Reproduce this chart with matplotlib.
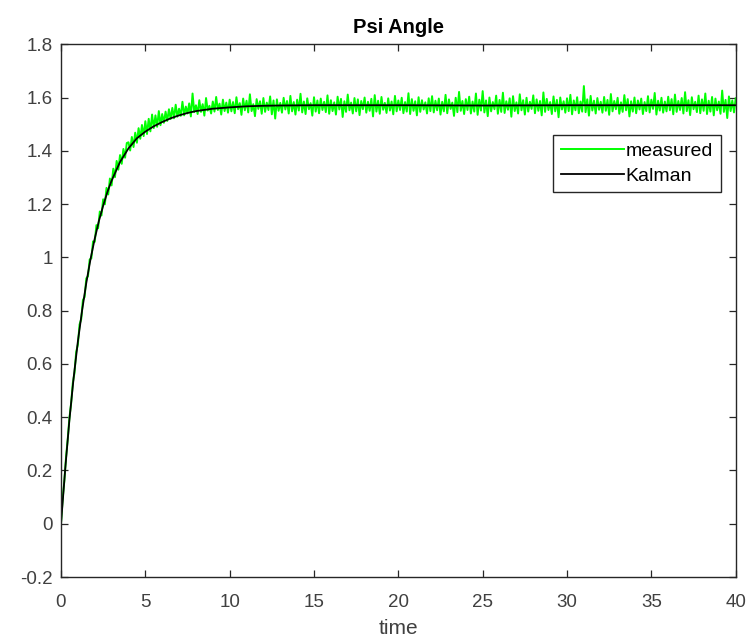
import matplotlib
matplotlib.use('Agg')
import matplotlib.pyplot as plt
import numpy as np

plt.rcParams['font.family'] = ['Liberation Sans', 'DejaVu Sans']

# sample times of the measured signal (0.1 s step)
t_meas = np.linspace(0, 40, 401)

psi_measured = [
    0.000, 0.095, 0.162, 0.251, 0.318, 0.398, 0.451, 0.528, 0.566, 0.645, 0.672, 0.748, 0.768, 0.840, 0.851, 0.921, 0.929, 0.992, 0.996, 1.060,
    1.058, 1.121, 1.109, 1.172, 1.157, 1.218, 1.199, 1.261, 1.236, 1.296, 1.270, 1.333, 1.301, 1.362, 1.329, 1.384, 1.351, 1.407, 1.374, 1.429,
    1.432, 1.401, 1.452, 1.414, 1.468, 1.430, 1.485, 1.445, 1.497, 1.455, 1.511, 1.463, 1.520, 1.473, 1.536, 1.485, 1.533, 1.490, 1.549, 1.496,
    1.538, 1.505, 1.547, 1.512, 1.556, 1.519, 1.561, 1.522, 1.573, 1.528, 1.558, 1.531, 1.584, 1.533, 1.566, 1.540, 1.578, 1.529, 1.615, 1.545,
    1.571, 1.538, 1.590, 1.546, 1.575, 1.532, 1.598, 1.551, 1.569, 1.540, 1.585, 1.547, 1.602, 1.553, 1.577, 1.536, 1.592, 1.549, 1.581, 1.543,
    1.592, 1.548, 1.583, 1.541, 1.601, 1.556, 1.579, 1.535, 1.596, 1.552, 1.588, 1.544, 1.612, 1.549, 1.575, 1.530, 1.594, 1.557, 1.586, 1.539,
    1.598, 1.546, 1.581, 1.553, 1.604, 1.537, 1.589, 1.521, 1.593, 1.550, 1.580, 1.543, 1.599, 1.555, 1.587, 1.540, 1.606, 1.548, 1.583, 1.536,
    1.592, 1.551, 1.614, 1.544, 1.585, 1.538, 1.597, 1.556, 1.579, 1.532, 1.601, 1.547, 1.589, 1.541, 1.596, 1.553, 1.584, 1.545, 1.608, 1.539,
    1.590, 1.549, 1.582, 1.536, 1.603, 1.555, 1.595, 1.527, 1.586, 1.546, 1.611, 1.552, 1.581, 1.540, 1.598, 1.548, 1.593, 1.534, 1.587, 1.556,
    1.600, 1.543, 1.584, 1.550, 1.595, 1.529, 1.609, 1.547, 1.588, 1.539, 1.602, 1.554, 1.580, 1.542, 1.597, 1.551, 1.585, 1.537, 1.606, 1.548,
    1.589, 1.553, 1.599, 1.541, 1.583, 1.547, 1.616, 1.538, 1.594, 1.550, 1.586, 1.533, 1.601, 1.546, 1.590, 1.555, 1.582, 1.540, 1.597, 1.549,
    1.605, 1.544, 1.588, 1.552, 1.596, 1.536, 1.584, 1.548, 1.610, 1.541, 1.593, 1.557, 1.581, 1.531, 1.599, 1.545, 1.621, 1.550, 1.587, 1.538,
    1.594, 1.553, 1.603, 1.540, 1.585, 1.547, 1.615, 1.535, 1.592, 1.551, 1.624, 1.544, 1.589, 1.530, 1.600, 1.548, 1.583, 1.556, 1.607, 1.539,
    1.591, 1.546, 1.618, 1.542, 1.586, 1.554, 1.597, 1.528, 1.605, 1.549, 1.582, 1.540, 1.612, 1.552, 1.590, 1.536, 1.599, 1.547, 1.584, 1.557,
    1.608, 1.541, 1.593, 1.550, 1.587, 1.533, 1.619, 1.546, 1.595, 1.553, 1.583, 1.538, 1.604, 1.548, 1.591, 1.526, 1.600, 1.555, 1.586, 1.543,
    1.597, 1.549, 1.610, 1.537, 1.589, 1.552, 1.601, 1.541, 1.585, 1.547, 1.643, 1.545, 1.593, 1.532, 1.606, 1.551, 1.588, 1.540, 1.598, 1.554,
    1.584, 1.543, 1.602, 1.550, 1.591, 1.535, 1.613, 1.548, 1.587, 1.556, 1.599, 1.539, 1.582, 1.546, 1.609, 1.552, 1.594, 1.529, 1.586, 1.547,
    1.600, 1.541, 1.589, 1.555, 1.596, 1.538, 1.583, 1.549, 1.605, 1.544, 1.592, 1.557, 1.617, 1.536, 1.588, 1.551, 1.599, 1.543, 1.585, 1.548,
    1.603, 1.552, 1.594, 1.537, 1.611, 1.546, 1.587, 1.553, 1.598, 1.540, 1.620, 1.549, 1.590, 1.534, 1.601, 1.556, 1.584, 1.545, 1.607, 1.541,
    1.593, 1.550, 1.615, 1.538, 1.588, 1.547, 1.602, 1.533, 1.596, 1.552, 1.585, 1.539, 1.626, 1.546, 1.591, 1.523, 1.604, 1.549, 1.589, 1.544,
    1.597,
]

t_kalman = [0, 0.25, 0.5, 0.75, 1.0, 1.25, 1.5, 1.75, 2.0, 2.25, 2.5, 2.75, 3.0, 3.5, 4.0, 4.5,
            5.0, 5.5, 6.0, 6.5, 7.0, 7.5, 8.0, 9.0, 10, 11, 12, 13, 15, 20, 25, 30, 35, 40]
psi_kalman = [0, 0.205, 0.39, 0.548, 0.684, 0.80, 0.904, 0.993, 1.07, 1.137, 1.194, 1.245, 1.288, 1.358, 1.409, 1.447,
              1.472, 1.492, 1.508, 1.522, 1.533, 1.542, 1.549, 1.558, 1.563, 1.567, 1.569, 1.570, 1.571, 1.571, 1.570, 1.571, 1.571, 1.571]

fig = plt.figure(figsize=(7.53, 6.41), dpi=100)
ax = fig.add_axes([0.081, 0.0998, 0.896, 0.8312])

ax.plot(t_meas, psi_measured, color='#00ff00', lw=1.4, label='measured')
ax.plot(t_kalman, psi_kalman, color='black', lw=1.3, label='Kalman')

ax.set_xlim(0, 40)
ax.set_ylim(-0.2, 1.8)
ax.set_xticks(np.arange(0, 41, 5))
ax.set_yticks(np.arange(-0.2, 1.81, 0.2))
ax.set_yticklabels(['-0.2', '0', '0.2', '0.4', '0.6', '0.8', '1', '1.2', '1.4', '1.6', '1.8'])

gray = '#262626'
for s in ax.spines.values():
    s.set_color(gray)
    s.set_linewidth(1.0)
ax.tick_params(direction='in', top=True, right=True, length=5, width=0.9,
               colors=gray, labelsize=13.5, labelcolor='#404040', pad=6)
ax.tick_params(axis='x', pad=12)

ax.set_title('Psi Angle', fontsize=14.5, fontweight='bold', pad=8)
ax.set_xlabel('time', fontsize=15, color='#404040', labelpad=6)

leg = ax.legend(loc='upper right', bbox_to_anchor=(0.978, 0.830), borderaxespad=0,
                fancybox=False, edgecolor=gray, fontsize=14, handlelength=3.25,
                handletextpad=0.1, borderpad=0.4, labelspacing=0.35, framealpha=1)
leg.get_frame().set_linewidth(1.0)

fig.savefig('out.png', dpi=100, facecolor='white')
